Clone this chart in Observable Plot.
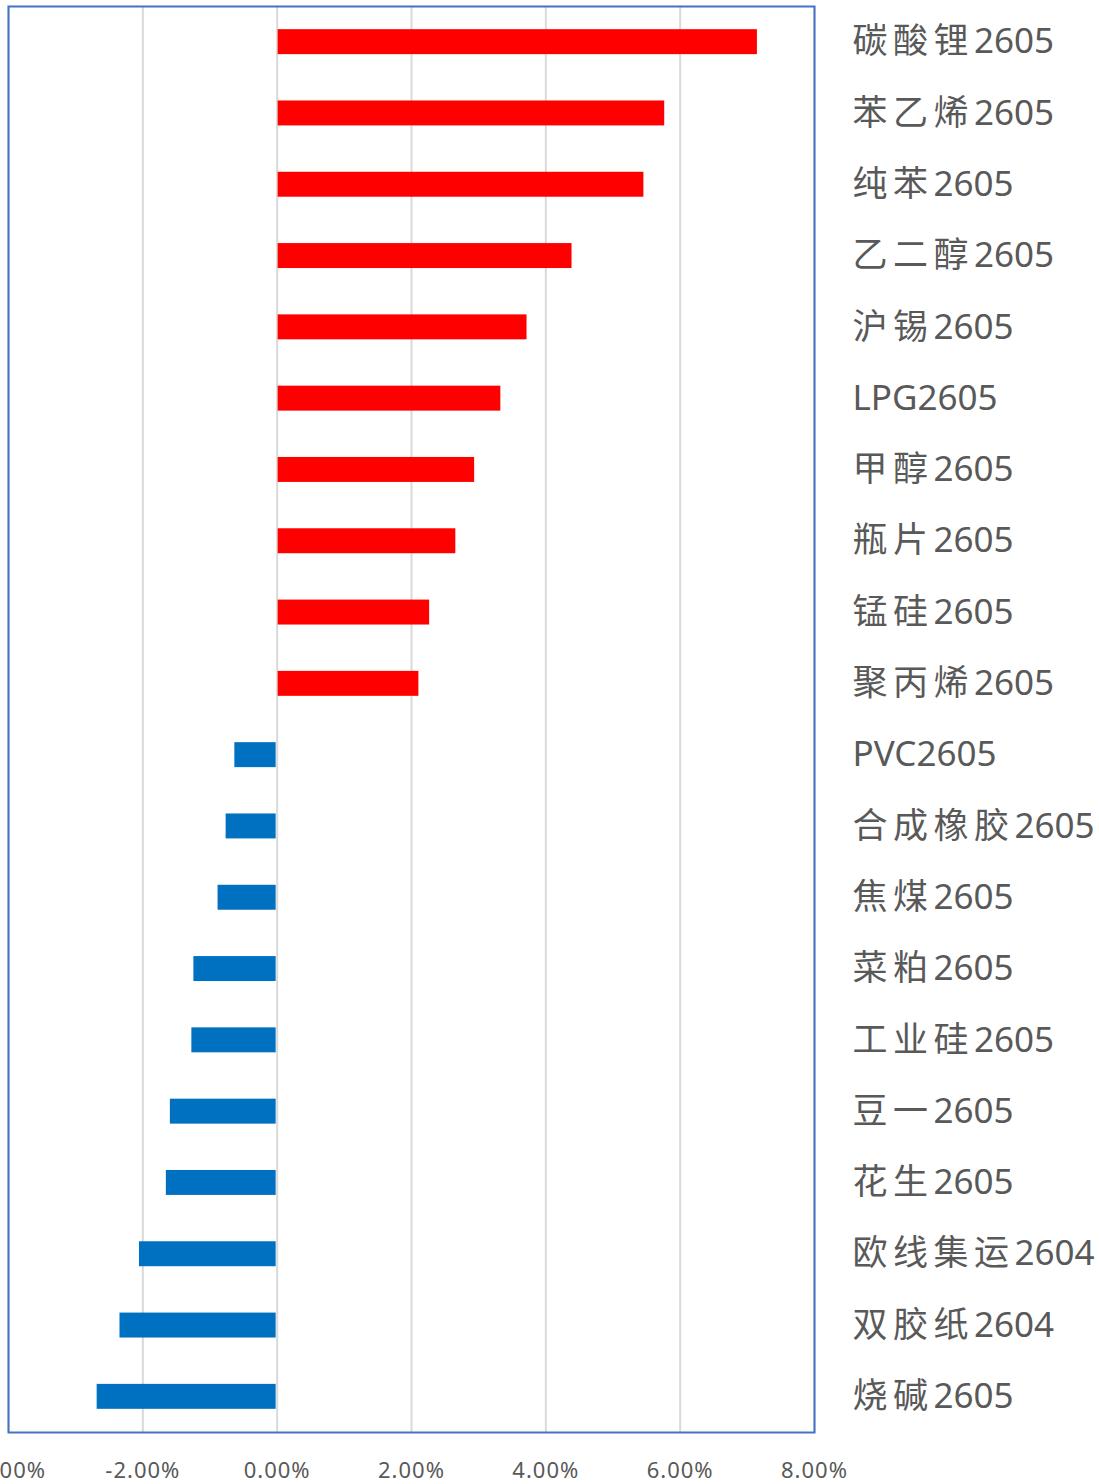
<!DOCTYPE html>
<html>
<head>
<meta charset="utf-8">
<script src="https://cdn.jsdelivr.net/npm/d3@7"></script>
<script src="https://cdn.jsdelivr.net/npm/@observablehq/plot@0.6"></script>
<style>
  html, body { margin: 0; padding: 0; background: #fff; }
  #chart { width: 1099px; height: 1484px; overflow: hidden; }
</style>
</head>
<body>
<div id="chart"></div>
<script>
const names = ["碳酸锂2605","苯乙烯2605","纯苯2605","乙二醇2605","沪锡2605","LPG2605","甲醇2605","瓶片2605","锰硅2605","聚丙烯2605","PVC2605","合成橡胶2605","焦煤2605","菜粕2605","工业硅2605","豆一2605","花生2605","欧线集运2604","双胶纸2604","烧碱2605"];
const changes = [0.0715,0.0577,0.0546,0.0439,0.0372,0.0333,0.0294,0.0266,0.0227,0.0211,-0.0063,-0.0076,-0.0088,-0.0124,-0.0127,-0.0159,-0.0165,-0.0205,-0.0234,-0.0268];
const xTicks = [-0.04,-0.02,0,0.02,0.04,0.06,0.08];

const data = names.map((n, i) => ({name: n, value: changes[i]}));

const plot = Plot.plot({
  width: 1099,
  height: 1484,
  marginLeft: 8,
  marginRight: 285,
  marginTop: 6,
  marginBottom: 52,
  style: {background: "#fff", fontFamily: "'Noto Sans', 'Noto Sans CJK SC', sans-serif"},
  x: {domain: [-0.04, 0.08], ticks: xTicks},
  y: {domain: names, paddingInner: 0.65, paddingOuter: 0.325, round: false},
  marks: [
    Plot.gridX(xTicks, {stroke: "#D9D9D9", strokeOpacity: 1, strokeWidth: 2}),
    Plot.barX(data.filter(d => d.value >= 0), {
      y: "name", x1: 0, x2: "value", fill: "#FF0000", insetLeft: 1
    }),
    Plot.barX(data.filter(d => d.value < 0), {
      y: "name", x1: "value", x2: 0, fill: "#0070C0", insetRight: 1
    }),
    Plot.frame({stroke: "#4472C4", strokeWidth: 2}),
    Plot.axisX({
      ticks: xTicks,
      tickSize: 0,
      tickPadding: 30,
      fontSize: 22,
      color: "#595959",
      label: null,
      tickFormat: d => (d * 100).toFixed(2) + "%"
    }),
    Plot.axisY({
      anchor: "right",
      tickSize: 0,
      tickPadding: 38,
      fontSize: 35,
      color: "#595959",
      label: null
    })
  ]
});

document.getElementById("chart").appendChild(plot);

// add spacing between CJK characters in the category labels
const cjk = /[\u3400-\u9fff]+/g;
d3.select(plot).selectAll("g[aria-label='y-axis tick label'] text").each(function() {
  const t = this.textContent;
  const sel = d3.select(this);
  sel.text(null);
  let last = 0;
  t.replace(cjk, (m, off) => {
    if (off > last) sel.append("tspan").text(t.slice(last, off));
    sel.append("tspan").attr("letter-spacing", "5.5px").text(m);
    last = off + m.length;
    return m;
  });
  if (last < t.length) sel.append("tspan").text(t.slice(last));
});
d3.select(plot).selectAll("g[aria-label='x-axis tick label'] text").attr("letter-spacing", "1px");
</script>
</body>
</html>
